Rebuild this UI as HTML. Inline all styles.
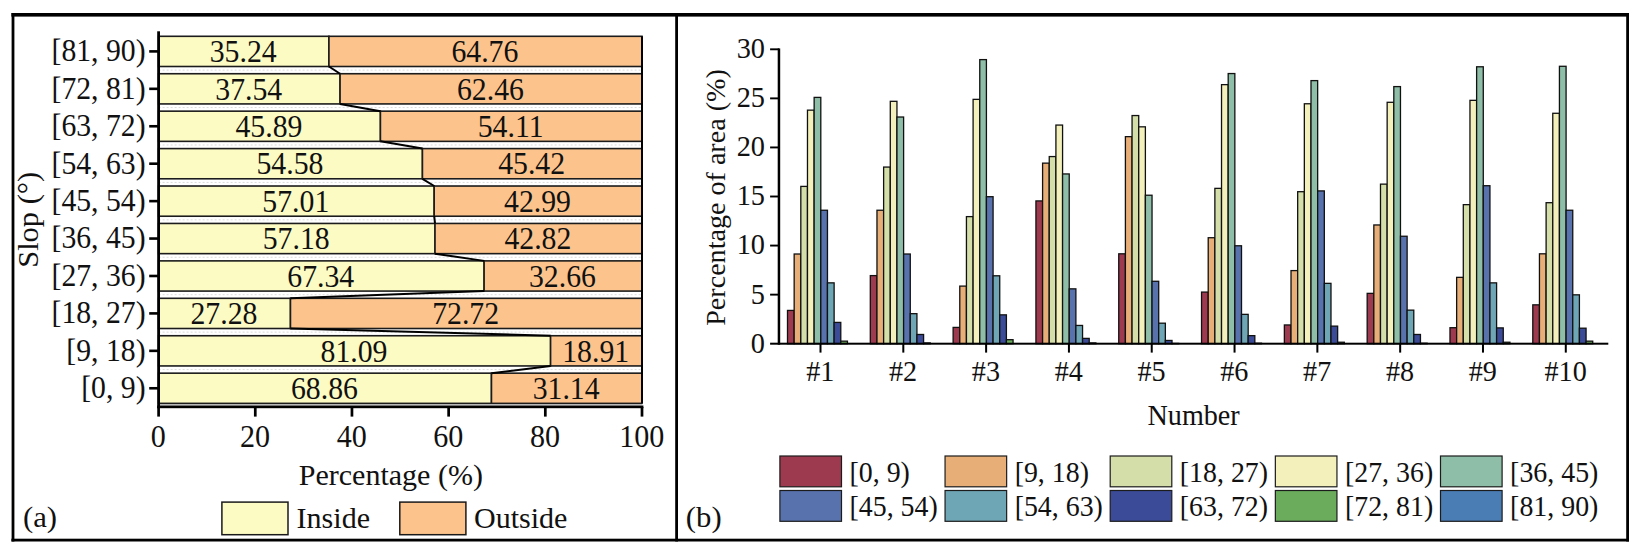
<!DOCTYPE html>
<html lang="en">
<head>
<meta charset="utf-8">
<title>Slope statistics</title>
<style>
html,body{margin:0;padding:0;background:#fff;}
body{width:1637px;height:553px;overflow:hidden;}
svg{display:block;font-family:"Liberation Serif","Times New Roman",serif;}
</style>
</head>
<body>
<svg width="1637" height="553" viewBox="0 0 1637 553">
<rect x="0" y="0" width="1637" height="553" fill="#ffffff"/>
<rect x="11.40" y="13.00" width="1617.60" height="3.60" fill="#000"/>
<rect x="11.40" y="538.70" width="1617.60" height="2.80" fill="#000"/>
<rect x="11.60" y="13.00" width="2.80" height="528.50" fill="#000"/>
<rect x="1626.20" y="13.00" width="2.80" height="528.50" fill="#000"/>
<rect x="675.20" y="13.00" width="2.80" height="528.50" fill="#000"/>
<line x1="158.60" y1="70.12" x2="642.00" y2="70.12" stroke="#dcdcdc" stroke-width="1" stroke-dasharray="2 2"/>
<line x1="158.60" y1="107.55" x2="642.00" y2="107.55" stroke="#dcdcdc" stroke-width="1" stroke-dasharray="2 2"/>
<line x1="158.60" y1="144.97" x2="642.00" y2="144.97" stroke="#dcdcdc" stroke-width="1" stroke-dasharray="2 2"/>
<line x1="158.60" y1="182.41" x2="642.00" y2="182.41" stroke="#dcdcdc" stroke-width="1" stroke-dasharray="2 2"/>
<line x1="158.60" y1="219.84" x2="642.00" y2="219.84" stroke="#dcdcdc" stroke-width="1" stroke-dasharray="2 2"/>
<line x1="158.60" y1="257.26" x2="642.00" y2="257.26" stroke="#dcdcdc" stroke-width="1" stroke-dasharray="2 2"/>
<line x1="158.60" y1="294.69" x2="642.00" y2="294.69" stroke="#dcdcdc" stroke-width="1" stroke-dasharray="2 2"/>
<line x1="158.60" y1="332.12" x2="642.00" y2="332.12" stroke="#dcdcdc" stroke-width="1" stroke-dasharray="2 2"/>
<line x1="158.60" y1="369.56" x2="642.00" y2="369.56" stroke="#dcdcdc" stroke-width="1" stroke-dasharray="2 2"/>
<line x1="158.60" y1="406.99" x2="642.00" y2="406.99" stroke="#dcdcdc" stroke-width="1" stroke-dasharray="2 2"/>
<rect x="158.60" y="36.30" width="170.35" height="30.20" fill="#FCFBC3" stroke="#1c1c1c" stroke-width="1.6"/>
<rect x="328.95" y="36.30" width="313.05" height="30.20" fill="#FCC48C" stroke="#1c1c1c" stroke-width="1.6"/>
<rect x="158.60" y="73.73" width="181.47" height="30.20" fill="#FCFBC3" stroke="#1c1c1c" stroke-width="1.6"/>
<rect x="340.07" y="73.73" width="301.93" height="30.20" fill="#FCC48C" stroke="#1c1c1c" stroke-width="1.6"/>
<rect x="158.60" y="111.16" width="221.83" height="30.20" fill="#FCFBC3" stroke="#1c1c1c" stroke-width="1.6"/>
<rect x="380.43" y="111.16" width="261.57" height="30.20" fill="#FCC48C" stroke="#1c1c1c" stroke-width="1.6"/>
<rect x="158.60" y="148.59" width="263.84" height="30.20" fill="#FCFBC3" stroke="#1c1c1c" stroke-width="1.6"/>
<rect x="422.44" y="148.59" width="219.56" height="30.20" fill="#FCC48C" stroke="#1c1c1c" stroke-width="1.6"/>
<rect x="158.60" y="186.02" width="275.59" height="30.20" fill="#FCFBC3" stroke="#1c1c1c" stroke-width="1.6"/>
<rect x="434.19" y="186.02" width="207.81" height="30.20" fill="#FCC48C" stroke="#1c1c1c" stroke-width="1.6"/>
<rect x="158.60" y="223.45" width="276.41" height="30.20" fill="#FCFBC3" stroke="#1c1c1c" stroke-width="1.6"/>
<rect x="435.01" y="223.45" width="206.99" height="30.20" fill="#FCC48C" stroke="#1c1c1c" stroke-width="1.6"/>
<rect x="158.60" y="260.88" width="325.52" height="30.20" fill="#FCFBC3" stroke="#1c1c1c" stroke-width="1.6"/>
<rect x="484.12" y="260.88" width="157.88" height="30.20" fill="#FCC48C" stroke="#1c1c1c" stroke-width="1.6"/>
<rect x="158.60" y="298.31" width="131.87" height="30.20" fill="#FCFBC3" stroke="#1c1c1c" stroke-width="1.6"/>
<rect x="290.47" y="298.31" width="351.53" height="30.20" fill="#FCC48C" stroke="#1c1c1c" stroke-width="1.6"/>
<rect x="158.60" y="335.74" width="391.99" height="30.20" fill="#FCFBC3" stroke="#1c1c1c" stroke-width="1.6"/>
<rect x="550.59" y="335.74" width="91.41" height="30.20" fill="#FCC48C" stroke="#1c1c1c" stroke-width="1.6"/>
<rect x="158.60" y="373.17" width="332.87" height="30.20" fill="#FCFBC3" stroke="#1c1c1c" stroke-width="1.6"/>
<rect x="491.47" y="373.17" width="150.53" height="30.20" fill="#FCC48C" stroke="#1c1c1c" stroke-width="1.6"/>
<line x1="328.95" y1="66.50" x2="340.07" y2="73.73" stroke="#000" stroke-width="2.0"/>
<line x1="340.07" y1="103.93" x2="380.43" y2="111.16" stroke="#000" stroke-width="2.0"/>
<line x1="380.43" y1="141.36" x2="422.44" y2="148.59" stroke="#000" stroke-width="2.0"/>
<line x1="422.44" y1="178.79" x2="434.19" y2="186.02" stroke="#000" stroke-width="2.0"/>
<line x1="434.19" y1="216.22" x2="435.01" y2="223.45" stroke="#000" stroke-width="2.0"/>
<line x1="435.01" y1="253.65" x2="484.12" y2="260.88" stroke="#000" stroke-width="2.0"/>
<line x1="484.12" y1="291.08" x2="290.47" y2="298.31" stroke="#000" stroke-width="2.0"/>
<line x1="290.47" y1="328.51" x2="550.59" y2="335.74" stroke="#000" stroke-width="2.0"/>
<line x1="550.59" y1="365.94" x2="491.47" y2="373.17" stroke="#000" stroke-width="2.0"/>
<line x1="642.00" y1="36.30" x2="642.00" y2="403.37" stroke="#000" stroke-width="2.0"/>
<text transform="translate(243.18,62.10) scale(0.945,1)" text-anchor="middle" font-size="31.5" fill="#111">35.24</text>
<text transform="translate(484.88,62.10) scale(0.945,1)" text-anchor="middle" font-size="31.5" fill="#111">64.76</text>
<text transform="translate(248.73,99.53) scale(0.945,1)" text-anchor="middle" font-size="31.5" fill="#111">37.54</text>
<text transform="translate(490.43,99.53) scale(0.945,1)" text-anchor="middle" font-size="31.5" fill="#111">62.46</text>
<text transform="translate(268.92,136.96) scale(0.945,1)" text-anchor="middle" font-size="31.5" fill="#111">45.89</text>
<text transform="translate(510.62,136.96) scale(0.945,1)" text-anchor="middle" font-size="31.5" fill="#111">54.11</text>
<text transform="translate(289.92,174.39) scale(0.945,1)" text-anchor="middle" font-size="31.5" fill="#111">54.58</text>
<text transform="translate(531.62,174.39) scale(0.945,1)" text-anchor="middle" font-size="31.5" fill="#111">45.42</text>
<text transform="translate(295.79,211.82) scale(0.945,1)" text-anchor="middle" font-size="31.5" fill="#111">57.01</text>
<text transform="translate(537.49,211.82) scale(0.945,1)" text-anchor="middle" font-size="31.5" fill="#111">42.99</text>
<text transform="translate(296.20,249.25) scale(0.945,1)" text-anchor="middle" font-size="31.5" fill="#111">57.18</text>
<text transform="translate(537.90,249.25) scale(0.945,1)" text-anchor="middle" font-size="31.5" fill="#111">42.82</text>
<text transform="translate(320.76,286.68) scale(0.945,1)" text-anchor="middle" font-size="31.5" fill="#111">67.34</text>
<text transform="translate(562.46,286.68) scale(0.945,1)" text-anchor="middle" font-size="31.5" fill="#111">32.66</text>
<text transform="translate(223.94,324.11) scale(0.945,1)" text-anchor="middle" font-size="31.5" fill="#111">27.28</text>
<text transform="translate(465.64,324.11) scale(0.945,1)" text-anchor="middle" font-size="31.5" fill="#111">72.72</text>
<text transform="translate(353.99,361.54) scale(0.945,1)" text-anchor="middle" font-size="31.5" fill="#111">81.09</text>
<text transform="translate(595.69,361.54) scale(0.945,1)" text-anchor="middle" font-size="31.5" fill="#111">18.91</text>
<text transform="translate(324.43,398.97) scale(0.945,1)" text-anchor="middle" font-size="31.5" fill="#111">68.86</text>
<text transform="translate(566.13,398.97) scale(0.945,1)" text-anchor="middle" font-size="31.5" fill="#111">31.14</text>
<line x1="158.60" y1="404.70" x2="642.00" y2="404.70" stroke="#b8b8b8" stroke-width="1.2"/>
<rect x="157.20" y="31.30" width="2.80" height="376.90" fill="#000"/>
<rect x="157.20" y="405.50" width="486.20" height="2.70" fill="#000"/>
<rect x="149.20" y="50.10" width="8.80" height="2.60" fill="#000"/>
<text transform="translate(145.60,61.25) scale(0.95,1)" text-anchor="end" font-size="31.3" fill="#111">[81, 90)</text>
<rect x="149.20" y="87.53" width="8.80" height="2.60" fill="#000"/>
<text transform="translate(145.60,98.68) scale(0.95,1)" text-anchor="end" font-size="31.3" fill="#111">[72, 81)</text>
<rect x="149.20" y="124.96" width="8.80" height="2.60" fill="#000"/>
<text transform="translate(145.60,136.11) scale(0.95,1)" text-anchor="end" font-size="31.3" fill="#111">[63, 72)</text>
<rect x="149.20" y="162.39" width="8.80" height="2.60" fill="#000"/>
<text transform="translate(145.60,173.54) scale(0.95,1)" text-anchor="end" font-size="31.3" fill="#111">[54, 63)</text>
<rect x="149.20" y="199.82" width="8.80" height="2.60" fill="#000"/>
<text transform="translate(145.60,210.97) scale(0.95,1)" text-anchor="end" font-size="31.3" fill="#111">[45, 54)</text>
<rect x="149.20" y="237.25" width="8.80" height="2.60" fill="#000"/>
<text transform="translate(145.60,248.40) scale(0.95,1)" text-anchor="end" font-size="31.3" fill="#111">[36, 45)</text>
<rect x="149.20" y="274.68" width="8.80" height="2.60" fill="#000"/>
<text transform="translate(145.60,285.83) scale(0.95,1)" text-anchor="end" font-size="31.3" fill="#111">[27, 36)</text>
<rect x="149.20" y="312.11" width="8.80" height="2.60" fill="#000"/>
<text transform="translate(145.60,323.26) scale(0.95,1)" text-anchor="end" font-size="31.3" fill="#111">[18, 27)</text>
<rect x="149.20" y="349.54" width="8.80" height="2.60" fill="#000"/>
<text transform="translate(145.60,360.69) scale(0.95,1)" text-anchor="end" font-size="31.3" fill="#111">[9, 18)</text>
<rect x="149.20" y="386.97" width="8.80" height="2.60" fill="#000"/>
<text transform="translate(145.60,398.12) scale(0.95,1)" text-anchor="end" font-size="31.3" fill="#111">[0, 9)</text>
<rect x="157.25" y="407.00" width="2.70" height="9.60" fill="#000"/>
<text transform="translate(158.30,447.00) scale(0.94,1)" text-anchor="middle" font-size="32" fill="#111">0</text>
<rect x="253.93" y="407.00" width="2.70" height="9.60" fill="#000"/>
<text transform="translate(254.98,447.00) scale(0.94,1)" text-anchor="middle" font-size="32" fill="#111">20</text>
<rect x="350.61" y="407.00" width="2.70" height="9.60" fill="#000"/>
<text transform="translate(351.66,447.00) scale(0.94,1)" text-anchor="middle" font-size="32" fill="#111">40</text>
<rect x="447.29" y="407.00" width="2.70" height="9.60" fill="#000"/>
<text transform="translate(448.34,447.00) scale(0.94,1)" text-anchor="middle" font-size="32" fill="#111">60</text>
<rect x="543.97" y="407.00" width="2.70" height="9.60" fill="#000"/>
<text transform="translate(545.02,447.00) scale(0.94,1)" text-anchor="middle" font-size="32" fill="#111">80</text>
<rect x="640.65" y="407.00" width="2.70" height="9.60" fill="#000"/>
<text transform="translate(641.70,447.00) scale(0.94,1)" text-anchor="middle" font-size="32" fill="#111">100</text>
<text transform="translate(298.80,484.80) scale(1.032,1)" text-anchor="start" font-size="29.1" fill="#111">Percentage (%)</text>
<text transform="translate(38.00,219.80) scale(0.972,1) rotate(-90)" text-anchor="middle" font-size="30.5" fill="#111">Slop (°)</text>
<text transform="translate(23.00,527.30) scale(1.06,1)" text-anchor="start" font-size="29" fill="#111">(a)</text>
<rect x="221.90" y="502.10" width="66.10" height="32.60" fill="#FCFBC3" stroke="#1a1a1a" stroke-width="1.5"/>
<rect x="399.80" y="502.10" width="66.10" height="32.60" fill="#FCC48C" stroke="#1a1a1a" stroke-width="1.5"/>
<text transform="translate(296.60,528.20) scale(1.025,1)" text-anchor="start" font-size="29.3" fill="#111">Inside</text>
<text transform="translate(474.00,528.20) scale(1.025,1)" text-anchor="start" font-size="29.3" fill="#111">Outside</text>
<rect x="787.50" y="310.43" width="6.66" height="33.27" fill="#9E3A50" stroke="#111" stroke-width="1.3"/>
<rect x="794.16" y="254.01" width="6.66" height="89.69" fill="#E7AE78" stroke="#111" stroke-width="1.3"/>
<rect x="800.82" y="186.40" width="6.66" height="157.30" fill="#D4DEA9" stroke="#111" stroke-width="1.3"/>
<rect x="807.48" y="110.15" width="6.66" height="233.55" fill="#F4F0BC" stroke="#111" stroke-width="1.3"/>
<rect x="814.14" y="97.39" width="6.66" height="246.31" fill="#8EBEA7" stroke="#111" stroke-width="1.3"/>
<rect x="820.80" y="210.24" width="6.66" height="133.46" fill="#5872AE" stroke="#111" stroke-width="1.3"/>
<rect x="827.46" y="282.86" width="6.66" height="60.84" fill="#6FA6B5" stroke="#111" stroke-width="1.3"/>
<rect x="834.12" y="322.41" width="6.66" height="21.29" fill="#3B4B98" stroke="#111" stroke-width="1.3"/>
<rect x="840.78" y="341.15" width="6.66" height="2.55" fill="#6AAC5C" stroke="#111" stroke-width="1.3"/>
<rect x="870.31" y="275.60" width="6.66" height="68.10" fill="#9E3A50" stroke="#111" stroke-width="1.3"/>
<rect x="876.97" y="210.24" width="6.66" height="133.46" fill="#E7AE78" stroke="#111" stroke-width="1.3"/>
<rect x="883.63" y="167.07" width="6.66" height="176.63" fill="#D4DEA9" stroke="#111" stroke-width="1.3"/>
<rect x="890.29" y="101.32" width="6.66" height="242.38" fill="#F4F0BC" stroke="#111" stroke-width="1.3"/>
<rect x="896.95" y="117.02" width="6.66" height="226.68" fill="#8EBEA7" stroke="#111" stroke-width="1.3"/>
<rect x="903.61" y="254.01" width="6.66" height="89.69" fill="#5872AE" stroke="#111" stroke-width="1.3"/>
<rect x="910.27" y="313.67" width="6.66" height="30.03" fill="#6FA6B5" stroke="#111" stroke-width="1.3"/>
<rect x="916.93" y="334.48" width="6.66" height="9.22" fill="#3B4B98" stroke="#111" stroke-width="1.3"/>
<rect x="923.59" y="342.91" width="6.66" height="0.79" fill="#6AAC5C" stroke="#111" stroke-width="1.3"/>
<rect x="953.12" y="327.41" width="6.66" height="16.29" fill="#9E3A50" stroke="#111" stroke-width="1.3"/>
<rect x="959.78" y="286.10" width="6.66" height="57.60" fill="#E7AE78" stroke="#111" stroke-width="1.3"/>
<rect x="966.44" y="216.62" width="6.66" height="127.08" fill="#D4DEA9" stroke="#111" stroke-width="1.3"/>
<rect x="973.10" y="99.36" width="6.66" height="244.34" fill="#F4F0BC" stroke="#111" stroke-width="1.3"/>
<rect x="979.76" y="59.61" width="6.66" height="284.09" fill="#8EBEA7" stroke="#111" stroke-width="1.3"/>
<rect x="986.42" y="196.70" width="6.66" height="147.00" fill="#5872AE" stroke="#111" stroke-width="1.3"/>
<rect x="993.08" y="275.79" width="6.66" height="67.91" fill="#6FA6B5" stroke="#111" stroke-width="1.3"/>
<rect x="999.74" y="314.85" width="6.66" height="28.85" fill="#3B4B98" stroke="#111" stroke-width="1.3"/>
<rect x="1006.40" y="339.68" width="6.66" height="4.02" fill="#6AAC5C" stroke="#111" stroke-width="1.3"/>
<rect x="1035.93" y="200.92" width="6.66" height="142.78" fill="#9E3A50" stroke="#111" stroke-width="1.3"/>
<rect x="1042.59" y="163.14" width="6.66" height="180.56" fill="#E7AE78" stroke="#111" stroke-width="1.3"/>
<rect x="1049.25" y="156.57" width="6.66" height="187.13" fill="#D4DEA9" stroke="#111" stroke-width="1.3"/>
<rect x="1055.91" y="125.07" width="6.66" height="218.63" fill="#F4F0BC" stroke="#111" stroke-width="1.3"/>
<rect x="1062.57" y="173.94" width="6.66" height="169.76" fill="#8EBEA7" stroke="#111" stroke-width="1.3"/>
<rect x="1069.23" y="288.85" width="6.66" height="54.85" fill="#5872AE" stroke="#111" stroke-width="1.3"/>
<rect x="1075.89" y="325.45" width="6.66" height="18.25" fill="#6FA6B5" stroke="#111" stroke-width="1.3"/>
<rect x="1082.55" y="338.40" width="6.66" height="5.30" fill="#3B4B98" stroke="#111" stroke-width="1.3"/>
<rect x="1089.21" y="342.91" width="6.66" height="0.79" fill="#6AAC5C" stroke="#111" stroke-width="1.3"/>
<rect x="1118.74" y="253.81" width="6.66" height="89.89" fill="#9E3A50" stroke="#111" stroke-width="1.3"/>
<rect x="1125.40" y="136.65" width="6.66" height="207.05" fill="#E7AE78" stroke="#111" stroke-width="1.3"/>
<rect x="1132.06" y="115.55" width="6.66" height="228.15" fill="#D4DEA9" stroke="#111" stroke-width="1.3"/>
<rect x="1138.72" y="126.83" width="6.66" height="216.87" fill="#F4F0BC" stroke="#111" stroke-width="1.3"/>
<rect x="1145.38" y="195.23" width="6.66" height="148.47" fill="#8EBEA7" stroke="#111" stroke-width="1.3"/>
<rect x="1152.04" y="281.29" width="6.66" height="62.41" fill="#5872AE" stroke="#111" stroke-width="1.3"/>
<rect x="1158.70" y="323.19" width="6.66" height="20.51" fill="#6FA6B5" stroke="#111" stroke-width="1.3"/>
<rect x="1165.36" y="340.46" width="6.66" height="3.24" fill="#3B4B98" stroke="#111" stroke-width="1.3"/>
<rect x="1172.02" y="343.41" width="6.66" height="0.29" fill="#6AAC5C" stroke="#111" stroke-width="1.3"/>
<rect x="1201.55" y="292.08" width="6.66" height="51.62" fill="#9E3A50" stroke="#111" stroke-width="1.3"/>
<rect x="1208.21" y="237.72" width="6.66" height="105.98" fill="#E7AE78" stroke="#111" stroke-width="1.3"/>
<rect x="1214.87" y="188.36" width="6.66" height="155.34" fill="#D4DEA9" stroke="#111" stroke-width="1.3"/>
<rect x="1221.53" y="84.64" width="6.66" height="259.06" fill="#F4F0BC" stroke="#111" stroke-width="1.3"/>
<rect x="1228.19" y="73.55" width="6.66" height="270.15" fill="#8EBEA7" stroke="#111" stroke-width="1.3"/>
<rect x="1234.85" y="245.77" width="6.66" height="97.93" fill="#5872AE" stroke="#111" stroke-width="1.3"/>
<rect x="1241.51" y="314.36" width="6.66" height="29.34" fill="#6FA6B5" stroke="#111" stroke-width="1.3"/>
<rect x="1248.17" y="335.65" width="6.66" height="8.05" fill="#3B4B98" stroke="#111" stroke-width="1.3"/>
<rect x="1254.83" y="343.21" width="6.66" height="0.49" fill="#6AAC5C" stroke="#111" stroke-width="1.3"/>
<rect x="1284.36" y="324.96" width="6.66" height="18.74" fill="#9E3A50" stroke="#111" stroke-width="1.3"/>
<rect x="1291.02" y="270.59" width="6.66" height="73.11" fill="#E7AE78" stroke="#111" stroke-width="1.3"/>
<rect x="1297.68" y="191.70" width="6.66" height="152.00" fill="#D4DEA9" stroke="#111" stroke-width="1.3"/>
<rect x="1304.34" y="103.77" width="6.66" height="239.93" fill="#F4F0BC" stroke="#111" stroke-width="1.3"/>
<rect x="1311.00" y="80.61" width="6.66" height="263.09" fill="#8EBEA7" stroke="#111" stroke-width="1.3"/>
<rect x="1317.66" y="190.91" width="6.66" height="152.79" fill="#5872AE" stroke="#111" stroke-width="1.3"/>
<rect x="1324.32" y="283.35" width="6.66" height="60.35" fill="#6FA6B5" stroke="#111" stroke-width="1.3"/>
<rect x="1330.98" y="326.13" width="6.66" height="17.57" fill="#3B4B98" stroke="#111" stroke-width="1.3"/>
<rect x="1337.64" y="342.23" width="6.66" height="1.47" fill="#6AAC5C" stroke="#111" stroke-width="1.3"/>
<rect x="1367.17" y="293.36" width="6.66" height="50.34" fill="#9E3A50" stroke="#111" stroke-width="1.3"/>
<rect x="1373.83" y="224.96" width="6.66" height="118.74" fill="#E7AE78" stroke="#111" stroke-width="1.3"/>
<rect x="1380.49" y="184.14" width="6.66" height="159.56" fill="#D4DEA9" stroke="#111" stroke-width="1.3"/>
<rect x="1387.15" y="102.30" width="6.66" height="241.40" fill="#F4F0BC" stroke="#111" stroke-width="1.3"/>
<rect x="1393.81" y="86.60" width="6.66" height="257.10" fill="#8EBEA7" stroke="#111" stroke-width="1.3"/>
<rect x="1400.47" y="236.25" width="6.66" height="107.45" fill="#5872AE" stroke="#111" stroke-width="1.3"/>
<rect x="1407.13" y="310.14" width="6.66" height="33.56" fill="#6FA6B5" stroke="#111" stroke-width="1.3"/>
<rect x="1413.79" y="334.48" width="6.66" height="9.22" fill="#3B4B98" stroke="#111" stroke-width="1.3"/>
<rect x="1420.45" y="343.21" width="6.66" height="0.49" fill="#6AAC5C" stroke="#111" stroke-width="1.3"/>
<rect x="1449.98" y="327.70" width="6.66" height="16.00" fill="#9E3A50" stroke="#111" stroke-width="1.3"/>
<rect x="1456.64" y="277.36" width="6.66" height="66.34" fill="#E7AE78" stroke="#111" stroke-width="1.3"/>
<rect x="1463.30" y="204.65" width="6.66" height="139.05" fill="#D4DEA9" stroke="#111" stroke-width="1.3"/>
<rect x="1469.96" y="100.34" width="6.66" height="243.36" fill="#F4F0BC" stroke="#111" stroke-width="1.3"/>
<rect x="1476.62" y="66.78" width="6.66" height="276.92" fill="#8EBEA7" stroke="#111" stroke-width="1.3"/>
<rect x="1483.28" y="185.71" width="6.66" height="157.99" fill="#5872AE" stroke="#111" stroke-width="1.3"/>
<rect x="1489.94" y="282.86" width="6.66" height="60.84" fill="#6FA6B5" stroke="#111" stroke-width="1.3"/>
<rect x="1496.60" y="327.90" width="6.66" height="15.80" fill="#3B4B98" stroke="#111" stroke-width="1.3"/>
<rect x="1503.26" y="342.23" width="6.66" height="1.47" fill="#6AAC5C" stroke="#111" stroke-width="1.3"/>
<rect x="1532.79" y="304.84" width="6.66" height="38.86" fill="#9E3A50" stroke="#111" stroke-width="1.3"/>
<rect x="1539.45" y="253.81" width="6.66" height="89.89" fill="#E7AE78" stroke="#111" stroke-width="1.3"/>
<rect x="1546.11" y="202.69" width="6.66" height="141.01" fill="#D4DEA9" stroke="#111" stroke-width="1.3"/>
<rect x="1552.77" y="113.29" width="6.66" height="230.41" fill="#F4F0BC" stroke="#111" stroke-width="1.3"/>
<rect x="1559.43" y="66.29" width="6.66" height="277.41" fill="#8EBEA7" stroke="#111" stroke-width="1.3"/>
<rect x="1566.09" y="210.24" width="6.66" height="133.46" fill="#5872AE" stroke="#111" stroke-width="1.3"/>
<rect x="1572.75" y="294.83" width="6.66" height="48.87" fill="#6FA6B5" stroke="#111" stroke-width="1.3"/>
<rect x="1579.41" y="328.20" width="6.66" height="15.50" fill="#3B4B98" stroke="#111" stroke-width="1.3"/>
<rect x="1586.07" y="341.15" width="6.66" height="2.55" fill="#6AAC5C" stroke="#111" stroke-width="1.3"/>
<rect x="777.70" y="48.40" width="2.50" height="296.30" fill="#000"/>
<rect x="770.10" y="342.70" width="838.20" height="2.00" fill="#000"/>
<text transform="translate(765.00,352.60) scale(0.994,1)" text-anchor="end" font-size="28.5" fill="#111">0</text>
<rect x="770.10" y="293.69" width="8.90" height="1.90" fill="#000"/>
<text transform="translate(765.00,303.53) scale(0.994,1)" text-anchor="end" font-size="28.5" fill="#111">5</text>
<rect x="770.10" y="244.62" width="8.90" height="1.90" fill="#000"/>
<text transform="translate(765.00,254.47) scale(0.994,1)" text-anchor="end" font-size="28.5" fill="#111">10</text>
<rect x="770.10" y="195.55" width="8.90" height="1.90" fill="#000"/>
<text transform="translate(765.00,205.40) scale(0.994,1)" text-anchor="end" font-size="28.5" fill="#111">15</text>
<rect x="770.10" y="146.49" width="8.90" height="1.90" fill="#000"/>
<text transform="translate(765.00,156.34) scale(0.994,1)" text-anchor="end" font-size="28.5" fill="#111">20</text>
<rect x="770.10" y="97.42" width="8.90" height="1.90" fill="#000"/>
<text transform="translate(765.00,107.27) scale(0.994,1)" text-anchor="end" font-size="28.5" fill="#111">25</text>
<rect x="770.10" y="48.36" width="8.90" height="1.90" fill="#000"/>
<text transform="translate(765.00,58.21) scale(0.994,1)" text-anchor="end" font-size="28.5" fill="#111">30</text>
<rect x="819.50" y="344.00" width="2.00" height="8.60" fill="#000"/>
<text transform="translate(820.30,380.50) scale(0.988,1)" text-anchor="middle" font-size="28.5" fill="#111">#1</text>
<rect x="902.31" y="344.00" width="2.00" height="8.60" fill="#000"/>
<text transform="translate(903.11,380.50) scale(0.988,1)" text-anchor="middle" font-size="28.5" fill="#111">#2</text>
<rect x="985.12" y="344.00" width="2.00" height="8.60" fill="#000"/>
<text transform="translate(985.92,380.50) scale(0.988,1)" text-anchor="middle" font-size="28.5" fill="#111">#3</text>
<rect x="1067.93" y="344.00" width="2.00" height="8.60" fill="#000"/>
<text transform="translate(1068.73,380.50) scale(0.988,1)" text-anchor="middle" font-size="28.5" fill="#111">#4</text>
<rect x="1150.74" y="344.00" width="2.00" height="8.60" fill="#000"/>
<text transform="translate(1151.54,380.50) scale(0.988,1)" text-anchor="middle" font-size="28.5" fill="#111">#5</text>
<rect x="1233.55" y="344.00" width="2.00" height="8.60" fill="#000"/>
<text transform="translate(1234.35,380.50) scale(0.988,1)" text-anchor="middle" font-size="28.5" fill="#111">#6</text>
<rect x="1316.36" y="344.00" width="2.00" height="8.60" fill="#000"/>
<text transform="translate(1317.16,380.50) scale(0.988,1)" text-anchor="middle" font-size="28.5" fill="#111">#7</text>
<rect x="1399.17" y="344.00" width="2.00" height="8.60" fill="#000"/>
<text transform="translate(1399.97,380.50) scale(0.988,1)" text-anchor="middle" font-size="28.5" fill="#111">#8</text>
<rect x="1481.98" y="344.00" width="2.00" height="8.60" fill="#000"/>
<text transform="translate(1482.78,380.50) scale(0.988,1)" text-anchor="middle" font-size="28.5" fill="#111">#9</text>
<rect x="1564.79" y="344.00" width="2.00" height="8.60" fill="#000"/>
<text transform="translate(1565.59,380.50) scale(0.988,1)" text-anchor="middle" font-size="28.5" fill="#111">#10</text>
<text transform="translate(1193.60,424.80) scale(0.988,1)" text-anchor="middle" font-size="28.5" fill="#111">Number</text>
<text transform="translate(725.40,197.50) scale(1.0,1) rotate(-90)" text-anchor="middle" font-size="28.1" fill="#111">Percentage of area (%)</text>
<text transform="translate(685.80,527.30) scale(1.06,1)" text-anchor="start" font-size="29" fill="#111">(b)</text>
<rect x="779.90" y="456.00" width="61.60" height="30.80" fill="#9E3A50" stroke="#1c1c1c" stroke-width="1.2"/>
<text transform="translate(849.50,481.90) scale(0.92,1)" text-anchor="start" font-size="30.3" fill="#111">[0, 9)</text>
<rect x="945.05" y="456.00" width="61.60" height="30.80" fill="#E7AE78" stroke="#1c1c1c" stroke-width="1.2"/>
<text transform="translate(1014.65,481.90) scale(0.92,1)" text-anchor="start" font-size="30.3" fill="#111">[9, 18)</text>
<rect x="1110.20" y="456.00" width="61.60" height="30.80" fill="#D4DEA9" stroke="#1c1c1c" stroke-width="1.2"/>
<text transform="translate(1179.80,481.90) scale(0.92,1)" text-anchor="start" font-size="30.3" fill="#111">[18, 27)</text>
<rect x="1275.35" y="456.00" width="61.60" height="30.80" fill="#F4F0BC" stroke="#1c1c1c" stroke-width="1.2"/>
<text transform="translate(1344.95,481.90) scale(0.92,1)" text-anchor="start" font-size="30.3" fill="#111">[27, 36)</text>
<rect x="1440.50" y="456.00" width="61.60" height="30.80" fill="#8EBEA7" stroke="#1c1c1c" stroke-width="1.2"/>
<text transform="translate(1510.10,481.90) scale(0.92,1)" text-anchor="start" font-size="30.3" fill="#111">[36, 45)</text>
<rect x="779.90" y="490.50" width="61.60" height="30.80" fill="#5872AE" stroke="#1c1c1c" stroke-width="1.2"/>
<text transform="translate(849.50,516.40) scale(0.92,1)" text-anchor="start" font-size="30.3" fill="#111">[45, 54)</text>
<rect x="945.05" y="490.50" width="61.60" height="30.80" fill="#6FA6B5" stroke="#1c1c1c" stroke-width="1.2"/>
<text transform="translate(1014.65,516.40) scale(0.92,1)" text-anchor="start" font-size="30.3" fill="#111">[54, 63)</text>
<rect x="1110.20" y="490.50" width="61.60" height="30.80" fill="#3B4B98" stroke="#1c1c1c" stroke-width="1.2"/>
<text transform="translate(1179.80,516.40) scale(0.92,1)" text-anchor="start" font-size="30.3" fill="#111">[63, 72)</text>
<rect x="1275.35" y="490.50" width="61.60" height="30.80" fill="#6AAC5C" stroke="#1c1c1c" stroke-width="1.2"/>
<text transform="translate(1344.95,516.40) scale(0.92,1)" text-anchor="start" font-size="30.3" fill="#111">[72, 81)</text>
<rect x="1440.50" y="490.50" width="61.60" height="30.80" fill="#4B7DB5" stroke="#1c1c1c" stroke-width="1.2"/>
<text transform="translate(1510.10,516.40) scale(0.92,1)" text-anchor="start" font-size="30.3" fill="#111">[81, 90)</text>
</svg>
</body>
</html>
